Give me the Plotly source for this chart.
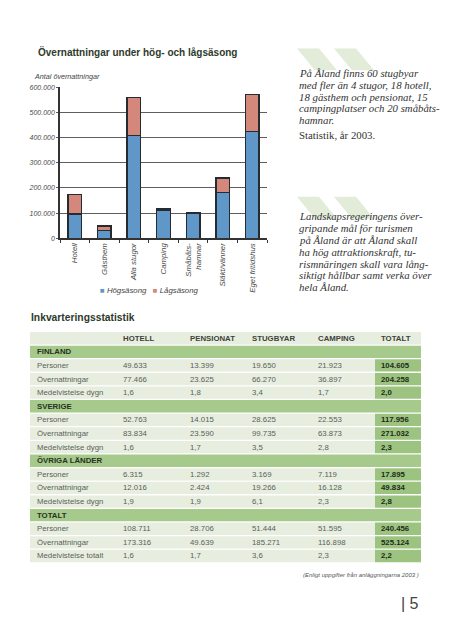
import plotly.graph_objects as go

W, H = 451, 640

def px(x):
    return x / W

def py(y):
    return 1 - y / H

# ---------------- Chart data ----------------
categories = ["Hotell", "Gästhem", "Alla stugor", "Camping", "Småbåts-<br>hamnar", "Släkt/vänner", "Eget fritidshus"]
series_names = ["Högsäsong", "Lågsäsong"]
hog = [97000, 31000, 407000, 113000, 101000, 181000, 425000]
lag = [76000, 19000, 151000, 4000, 0, 59000, 145000]
y_ticks = [0, 100000, 200000, 300000, 400000, 500000, 600000]

# ---------------- Table data ----------------
table_cols = ["", "HOTELL", "PENSIONAT", "STUGBYAR", "CAMPING", "TOTALT"]
sections = ["FINLAND", "SVERIGE", "ÖVRIGA LÄNDER", "TOTALT"]
row_labels = [
    ["Personer", "Övernattningar", "Medelvistelse dygn"],
    ["Personer", "Övernattningar", "Medelvistelse dygn"],
    ["Personer", "Övernattningar", "Medelvistelse dygn"],
    ["Personer", "Övernattningar", "Medelvistelse totalt"],
]
hotell = [["49.633", "77.466", "1,6"], ["52.763", "83.834", "1,6"], ["6.315", "12.016", "1,9"], ["108.711", "173.316", "1,6"]]
pensionat = [["13.399", "23.625", "1,8"], ["14.015", "23.590", "1,7"], ["1.292", "2.424", "1,9"], ["28.706", "49.639", "1,7"]]
stugbyar = [["19.650", "66.270", "3,4"], ["28.625", "99.735", "3,5"], ["3.169", "19.266", "6,1"], ["51.444", "185.271", "3,6"]]
camping = [["21.923", "36.897", "1,7"], ["22.553", "63.873", "2,8"], ["7.119", "16.128", "2,3"], ["51.595", "116.898", "2,3"]]
totalt = [["104.605", "204.258", "2,0"], ["117.956", "271.032", "2,3"], ["17.895", "49.834", "2,8"], ["240.456", "525.124", "2,2"]]

text_block_1 = ["På Åland finns 60 stugbyar", "med fler än 4 stugor, 18 hotell,", "18 gästhem och pensionat, 15",
                "campingplatser och 20 småbåts-", "hamnar."]
text_block_1_note = "Statistik, år 2003."
text_block_2 = ["Landskapsregeringens över-", "gripande mål för turismen", "på Åland är att Åland skall",
                "ha hög attraktionskraft, tu-", "rismnäringen skall vara lång-", "siktigt hållbar samt verka över",
                "hela Åland."]

blue = "#5f98c8"
salmon = "#d4877b"
outline = "#262b30"

fig = go.Figure()
fig.add_trace(go.Bar(x=categories, y=hog, name=series_names[0],
                     marker=dict(color=blue, line=dict(color=outline, width=1.4)), width=0.46))
fig.add_trace(go.Bar(x=categories, y=lag, name=series_names[1],
                     marker=dict(color=salmon, line=dict(color=outline, width=1.4)), width=0.46))

italic_font = dict(family="Liberation Sans", size=7, color="#4a4a4a", style="italic")

fig.update_layout(
    width=W, height=H,
    margin=dict(l=0, r=0, t=0, b=0),
    paper_bgcolor="white", plot_bgcolor="white",
    barmode="stack",
    separators=",.",
    showlegend=False,
    xaxis=dict(domain=[px(60), px(267)], showline=True, linecolor="#333", linewidth=1.5,
               ticks="outside", tickson="boundaries", ticklen=3, tickcolor="#333",
               tickangle=-90, tickfont=dict(family="Liberation Sans", size=7.8, color="#4a4a4a", style="italic"),
               showgrid=False),
    yaxis=dict(domain=[py(237), py(84)], range=[0, 600000], tickvals=y_ticks,
               tickformat=",d", showline=True, linecolor="#333", linewidth=1.5,
               showgrid=True, gridcolor="#5e5e5e", gridwidth=1.1, zeroline=False,
               tickfont=italic_font, ticks="outside", ticklen=2, tickcolor="#5e5e5e"),
)

shapes = []
deco = "#e2ecd8"
for (x0, y0) in [(297, 45), (334, 45), (297, 195), (334, 195)]:
    shapes.append(dict(type="path", xref="paper", yref="paper", layer="below", line=dict(width=0), fillcolor=deco,
                       path=f"M {px(x0)} {py(y0)} L {px(x0+22)} {py(y0)} L {px(x0+40)} {py(y0+22)} L {px(x0+18)} {py(y0+22)} Z"))

ann = []
def add(text, x, y, size, xanchor="left", yanchor="middle", family="Liberation Sans", color="#333", style="normal"):
    ann.append(dict(text=text, x=px(x), y=py(y), xref="paper", yref="paper", showarrow=False,
                    xanchor=xanchor, yanchor=yanchor, align="left",
                    font=dict(family=family, size=size, color=color, style=style)))

# ---------------- Table (drawn from the lists) ----------------
light = "#e7eee0"
section_bg = "#a6c98c"
total_bg = "#9cc480"
t_left, t_right, tot_left = 30, 421, 375
t_top, row_h, gap = 331.7, 13.76, 1.3
col_x = [35, 121, 188, 250, 316, 379]
fs = 7.8

def row_rect(r, x0, x1, color):
    y0 = t_top + r * row_h
    shapes.append(dict(type="rect", xref="paper", yref="paper", layer="below", line=dict(width=0), fillcolor=color,
                       x0=px(x0), x1=px(x1), y0=py(y0), y1=py(y0 + row_h - gap)))

def row_y(r):
    return t_top + r * row_h + (row_h - gap) / 2

r = 0
row_rect(r, t_left, t_right, light)
for c, name in enumerate(table_cols):
    if name:
        add("<b>" + name + "</b>", col_x[c], row_y(r), fs, color="#3d423b")
r += 1
for s_i, sec in enumerate(sections):
    row_rect(r, t_left, t_right, section_bg)
    add("<b>" + sec + "</b>", col_x[0], row_y(r), fs, color="#26331f")
    r += 1
    for k in range(3):
        row_rect(r, t_left, tot_left, light)
        row_rect(r, tot_left, t_right, total_bg)
        vals = [row_labels[s_i][k], hotell[s_i][k], pensionat[s_i][k], stugbyar[s_i][k], camping[s_i][k]]
        for c, v in enumerate(vals):
            add(v, col_x[c], row_y(r), fs, color="#5a5f59")
        add("<b>" + totalt[s_i][k] + "</b>", col_x[5], row_y(r), fs, color="#1f2a19")
        r += 1

fig.update_layout(shapes=shapes)

# ---------------- Texts ----------------
add("<b>Övernattningar under hög- och lågsäsong</b>", 36, 49, 10, color="#2e3a2b")
add("Antal övernattningar", 32, 73, 7.2, color="#444", style="italic")
add(f"<span style='color:{blue}'>■</span> {series_names[0]}   <span style='color:{salmon}'>■</span> {series_names[1]}",
    149, 290, 7.8, xanchor="center", color="#444", style="italic")

serif = "Liberation Serif"
for i, line in enumerate(text_block_1):
    add(line, 297, 70 + i * 11.8, 10.8, family=serif, color="#333", style="italic")
add(text_block_1_note, 297, 132, 10.8, family=serif, color="#333")
for i, line in enumerate(text_block_2):
    add(line, 297, 214 + i * 12.1, 10.8, family=serif, color="#333", style="italic")

add("<b>Inkvarteringsstatistik</b>", 29, 317, 10.3, color="#2e3a2b")
add("(Enligt uppgifter från anläggningarna 2003 )", 421, 577, 6, xanchor="right", color="#555", style="italic")
add("| 5", 421, 606, 16, xanchor="right", color="#444")

fig.update_layout(annotations=ann)

fig.write_html("out.html", config={"displayModeBar": False},
               post_script="document.body.style.margin='0';document.body.style.padding='0';")
